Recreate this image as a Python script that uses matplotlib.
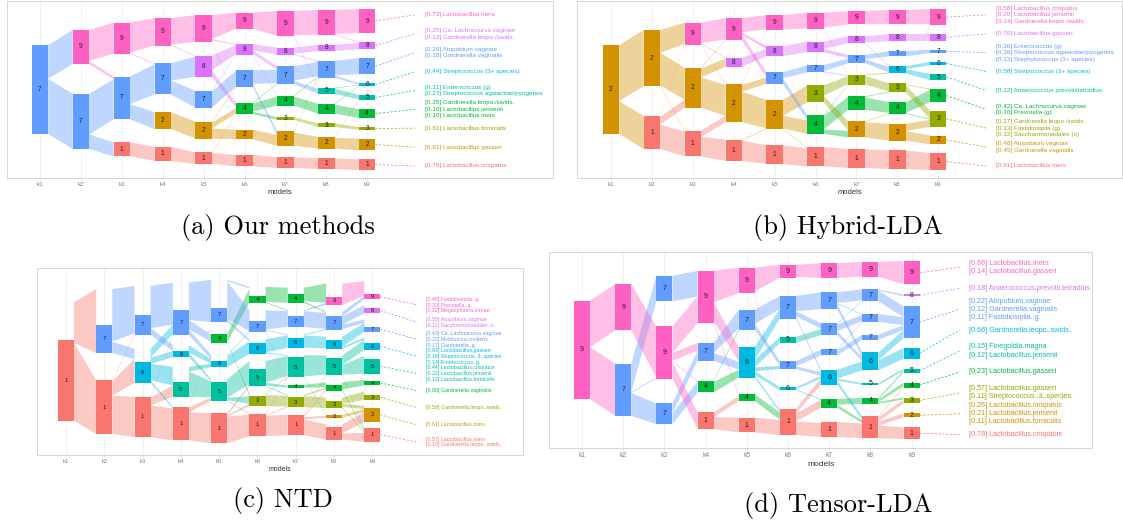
import matplotlib
matplotlib.use('Agg')
import matplotlib.pyplot as plt
from matplotlib.patches import Polygon, Rectangle
import numpy as np

plt.rcParams['font.family'] = ['Liberation Sans', 'DejaVu Sans']

# ggplot hue palette for the 9 topics
hue = {1: '#F8766D', 2: '#D39200', 3: '#93AA00', 4: '#00BA38', 5: '#00C19F',
       6: '#00B9E3', 7: '#619CFF', 8: '#DB72FB', 9: '#FF61C3'}

models = ['k1', 'k2', 'k3', 'k4', 'k5', 'k6', 'k7', 'k8', 'k9']

# ---------------- (a) Our methods ----------------
a_topics = [[7], [9, 7], [9, 7, 1], [9, 7, 2, 1], [9, 8, 7, 2, 1], [9, 8, 7, 4, 2, 1],
            [9, 8, 7, 4, 3, 2, 1], [9, 8, 7, 5, 4, 3, 2, 1], [9, 8, 7, 6, 5, 4, 3, 2, 1]]
a_mass = [[1.00], [0.38, 0.62], [0.35, 0.48, 0.16], [0.31, 0.35, 0.19, 0.16],
          [0.30, 0.24, 0.19, 0.19, 0.13], [0.18, 0.12, 0.19, 0.13, 0.11, 0.13],
          [0.28, 0.08, 0.20, 0.11, 0.03, 0.16, 0.12],
          [0.28, 0.07, 0.19, 0.07, 0.11, 0.04, 0.13, 0.12],
          [0.27, 0.08, 0.18, 0.03, 0.06, 0.10, 0.03, 0.13, 0.12]]
a_flows = [
    [(0, 0, .38), (0, 1, .62)],
    [(0, 0, .34), (0, 1, .03), (1, 1, .45), (1, 2, .16)],
    [(0, 0, .31), (0, 1, .01), (1, 1, .33), (1, 2, .18), (2, 3, .16)],
    [(0, 0, .30), (0, 1, .01), (1, 1, .22), (1, 2, .18), (2, 3, .19), (3, 4, .13)],
    [(0, 0, .17), (0, 1, .01), (0, 3, .01), (1, 1, .11), (1, 3, .05), (2, 1, .01), (2, 2, .18),
     (3, 2, .01), (3, 3, .06), (3, 4, .10), (4, 3, .01), (4, 5, .13)],
    [(0, 0, .18), (1, 1, .07), (1, 2, .04), (1, 3, .01), (2, 2, .16), (2, 5, .04), (3, 2, .01),
     (3, 3, .10), (3, 4, .03), (4, 5, .11), (5, 6, .12)],
    [(0, 0, .27), (0, 3, .01), (1, 1, .07), (1, 2, .01), (2, 2, .17), (2, 3, .04), (3, 2, .01),
     (3, 4, .10), (4, 5, .03), (5, 2, .01), (5, 6, .14), (6, 7, .12)],
    [(0, 0, .27), (0, 1, .01), (1, 1, .07), (2, 2, .18), (2, 3, .03), (3, 3, .01), (3, 4, .06),
     (4, 3, .01), (4, 5, .10), (5, 6, .03), (6, 4, .01), (6, 7, .13), (7, 8, .12)],
]
a_labels = [
    ['[0.73] Lactobacillus iners'],
    ['[0.25] Ca. Lachnocurva vaginae', '[0.12] Gardnerella leopo./swids.'],
    ['[0.26] Atopobium vaginae', '[0.18] Gardnerella vaginalis'],
    ['[0.44] Streptococcus (3+ species)'],
    ['[0.31] Enterococcus (g)', '[0.27] Streptococcus agalactiae/pyogenes'],
    ['[0.25] Gardnerella leopo./swids.', '[0.10] Lactobacillus jensenii', '[0.10] Lactobacillus iners'],
    ['[0.61] Lactobacillus fornicalis'],
    ['[0.61] Lactobacillus gasseri'],
    ['[0.79] Lactobacillus crispatus'],
]

# ---------------- (b) Hybrid-LDA ----------------
b_topics = [[2], [2, 1], [9, 2, 1], [9, 8, 2, 1], [9, 8, 7, 2, 1], [9, 8, 7, 3, 4, 1],
            [9, 8, 7, 3, 4, 2, 1], [9, 8, 7, 6, 3, 4, 2, 1], [9, 8, 7, 6, 5, 4, 3, 2, 1]]
b_mass = [[1.00], [0.63, 0.37], [0.25, 0.45, 0.29], [0.25, 0.10, 0.43, 0.24],
          [0.17, 0.11, 0.13, 0.33, 0.21], [0.18, 0.12, 0.08, 0.19, 0.21, 0.22],
          [0.15, 0.08, 0.09, 0.11, 0.15, 0.18, 0.21],
          [0.16, 0.08, 0.06, 0.08, 0.10, 0.13, 0.19, 0.21],
          [0.18, 0.08, 0.04, 0.04, 0.07, 0.15, 0.18, 0.10, 0.19]]
b_flows = [
    [(0, 0, .63), (0, 1, .37)],
    [(0, 0, .25), (0, 1, .36), (0, 2, .01), (1, 0, .01), (1, 1, .09), (1, 2, .28)],
    [(0, 0, .24), (0, 1, .01), (0, 2, .01), (1, 0, .01), (1, 1, .10), (1, 2, .34), (2, 2, .07),
     (2, 3, .22)],
    [(0, 0, .16), (0, 1, .03), (0, 2, .06), (1, 1, .08), (2, 0, .01), (2, 2, .07), (2, 3, .32),
     (3, 3, .01), (3, 4, .21)],
    [(0, 0, .17), (0, 5, .01), (1, 1, .11), (2, 2, .07), (2, 4, .06), (3, 3, .19), (3, 4, .15),
     (3, 5, .01), (4, 5, .22)],
    [(0, 0, .15), (0, 3, .01), (1, 1, .08), (1, 2, .04), (2, 2, .06), (2, 3, .01), (3, 3, .11),
     (3, 5, .07), (4, 3, .01), (4, 4, .15), (4, 5, .05), (5, 6, .21)],
    [(0, 0, .15), (1, 1, .07), (1, 3, .01), (2, 2, .05), (2, 3, .05), (3, 3, .01), (3, 4, .10),
     (4, 4, .01), (4, 5, .13), (5, 5, .01), (5, 6, .18), (6, 7, .21)],
    [(0, 0, .17), (1, 1, .08), (2, 2, .04), (3, 3, .04), (3, 4, .06), (4, 0, .01), (4, 5, .01),
     (4, 6, .09), (5, 5, .13), (5, 6, .01), (6, 6, .08), (6, 7, .10), (7, 8, .19)],
]
b_labels = [
    ['[0.58] Lactobacillus crispatus', '[0.20] Lactobacillus jensenii', '[0.14] Gardnerella leopo./swids.'],
    ['[0.70] Lactobacillus gasseri'],
    ['[0.36] Enterococcus (g)', '[0.26] Streptococcus agalactiae/pyogenes', '[0.13] Staphylococcus (3+ species)'],
    ['[0.58] Streptococcus (3+ species)'],
    ['[0.12] Anaerococcus prevotii/tetradius'],
    ['[0.42] Ca. Lachnocurva vaginae', '[0.10] Prevotella (g)'],
    ['[0.27] Gardnerella leopo./swids.', '[0.13] Fastidiosipila (g)', '[0.12] Saccharimonadales (o)'],
    ['[0.46] Atopobium vaginae', '[0.45] Gardnerella vaginalis'],
    ['[0.91] Lactobacillus iners'],
]

# ---------------- (c) NTD ----------------
c_topics = [[1], [7, 1], [7, 6, 1], [7, 6, 5, 1], [7, 4, 6, 5, 1], [4, 7, 6, 5, 3, 1],
            [4, 7, 6, 5, 4, 3, 1], [9, 7, 6, 5, 4, 3, 2, 1], [9, 8, 7, 6, 5, 4, 3, 2, 1]]
c_mass = [[0.86], [0.30, 0.57], [0.21, 0.22, 0.43], [0.27, 0.06, 0.16, 0.36],
          [0.15, 0.09, 0.07, 0.20, 0.32], [0.07, 0.12, 0.11, 0.19, 0.11, 0.24],
          [0.09, 0.12, 0.10, 0.22, 0.03, 0.11, 0.22],
          [0.09, 0.15, 0.09, 0.19, 0.06, 0.07, 0.03, 0.13],
          [0.05, 0.06, 0.05, 0.07, 0.16, 0.05, 0.05, 0.15, 0.15]]
# weight carried by the flows through each node (wider than the node mass for NTD)
c_space = [[1.26], [0.68, 0.57], [0.52, 0.36, 0.43], [0.56, 0.13, 0.32, 0.36],
           [0.45, 0.09, 0.13, 0.23, 0.32], [0.17, 0.23, 0.15, 0.27, 0.13, 0.24],
           [0.16, 0.18, 0.14, 0.24, 0.03, 0.13, 0.22],
           [0.23, 0.19, 0.13, 0.21, 0.09, 0.11, 0.03, 0.16],
           [0.19, 0.09, 0.13, 0.13, 0.19, 0.06, 0.09, 0.17, 0.15]]
c_flows = [
    [(0, 0, .43), (0, 1, .83)],
    [(0, 0, .32), (0, 1, .07), (1, 0, .01), (1, 1, .16), (1, 2, .42)],
    [(0, 0, .32), (0, 1, .05), (1, 0, .07), (1, 1, .05), (1, 2, .13), (1, 3, .02), (2, 0, .01),
     (2, 2, .08), (2, 3, .34)],
    [(0, 0, .32), (0, 1, .08), (0, 2, .05), (1, 2, .05), (1, 3, .03), (2, 2, .04), (2, 3, .22),
     (3, 1, .01), (3, 3, .05), (3, 4, .30)],
    [(0, 0, .01), (0, 1, .27), (0, 2, .02), (1, 0, .09), (1, 4, .01), (2, 1, .01), (2, 2, .12),
     (3, 3, .22), (3, 4, .03), (3, 5, .01), (4, 3, .02), (4, 4, .01), (4, 5, .24)],
    [(0, 0, .15), (0, 1, .01), (1, 1, .17), (1, 2, .01), (1, 4, .01), (2, 2, .13), (2, 3, .01),
     (3, 3, .23), (3, 4, .03), (3, 5, .01), (4, 3, .01), (4, 5, .12), (5, 1, .005), (5, 3, .01),
     (5, 5, .01), (5, 6, .22)],
    [(0, 0, .08), (0, 1, .01), (1, 0, .01), (1, 1, .16), (2, 1, .01), (2, 2, .12), (3, 3, .20),
     (3, 6, .01), (4, 4, .03), (5, 4, .01), (5, 5, .10), (6, 2, .005), (6, 3, .01), (6, 4, .01),
     (6, 6, .02), (6, 7, .15)],
    [(0, 0, .18), (1, 0, .04), (1, 1, .07), (1, 2, .04), (1, 8, .005), (2, 2, .10), (2, 3, .02),
     (3, 3, .10), (3, 4, .10), (3, 8, .01), (4, 5, .05), (4, 8, .01), (5, 6, .06), (5, 7, .03),
     (5, 8, .01), (6, 7, .03), (7, 7, .09), (7, 8, .06)],
]
c_labels = [
    ['[0.48] Fastidiosipila..g.', '[0.33] Prevotella..g.', '[0.22] Megasphaera.lornae'],
    ['[0.55] Atopobium.vaginae', '[0.11] Saccharimonadales..o.'],
    ['[0.43] Ca..Lachnocurva.vaginae', '[0.22] Mobiluncus.mulieris', '[0.17] Gardnerella..g.'],
    ['[0.93] Lactobacillus.gasseri', '[0.16] Streptococcus..3..species.', '[0.14] Enterococcus..g.'],
    ['[0.44] Lactobacillus.crispatus', '[0.22] Lactobacillus.jensenii', '[0.12] Lactobacillus.fornicalis'],
    ['[0.80] Gardnerella.vaginalis'],
    ['[0.58] Gardnerella.leopo..swids.'],
    ['[0.61] Lactobacillus.iners'],
    ['[0.57] Lactobacillus.iners', '[0.10] Gardnerella.leopo..swids.'],
]

# ---------------- (d) Tensor-LDA ----------------
d_topics = [[9], [9, 7], [7, 9, 7], [9, 7, 4, 1], [9, 7, 6, 4, 1], [9, 7, 5, 7, 6, 1],
            [9, 7, 7, 7, 6, 4, 1], [9, 7, 7, 7, 6, 5, 4, 1], [9, 8, 7, 6, 5, 4, 3, 2, 1]]
d_mass = [[1.00], [0.47, 0.53], [0.26, 0.53, 0.21], [0.53, 0.18, 0.12, 0.17],
          [0.26, 0.21, 0.31, 0.07, 0.15], [0.13, 0.23, 0.06, 0.08, 0.03, 0.27],
          [0.15, 0.17, 0.12, 0.06, 0.15, 0.09, 0.15],
          [0.15, 0.12, 0.08, 0.05, 0.18, 0.02, 0.06, 0.22],
          [0.24, 0.02, 0.32, 0.11, 0.04, 0.05, 0.06, 0.04, 0.12]]
d_flows = [
    [(0, 0, .47), (0, 1, .53)],
    [(0, 1, .47), (1, 0, .26), (1, 1, .01), (1, 2, .21)],
    [(0, 0, .26), (1, 0, .27), (1, 1, .08), (1, 2, .01), (1, 3, .17), (2, 1, .10), (2, 2, .11)],
    [(0, 0, .26), (0, 2, .15), (0, 3, .02), (1, 1, .10), (1, 2, .08), (2, 1, .01), (2, 2, .08),
     (3, 3, .05), (3, 4, .12)],
    [(0, 0, .13), (0, 5, .01), (1, 1, .13), (1, 3, .05), (1, 5, .01), (2, 1, .10), (2, 2, .06),
     (2, 3, .03), (2, 4, .03), (2, 5, .02), (3, 5, .07), (4, 5, .15)],
    [(0, 0, .15), (0, 6, .01), (1, 1, .15), (1, 2, .05), (1, 4, .02), (2, 2, .06), (3, 3, .06),
     (3, 4, .03), (4, 4, .02), (4, 5, .01), (5, 4, .05), (5, 5, .08), (5, 6, .14)],
    [(0, 0, .15), (1, 1, .11), (1, 2, .01), (1, 4, .05), (2, 1, .01), (2, 2, .07), (2, 4, .04),
     (3, 2, .01), (3, 3, .05), (4, 4, .09), (4, 5, .02), (4, 7, .04), (5, 6, .06), (5, 7, .03),
     (6, 7, .15)],
    [(0, 0, .15), (1, 1, .01), (1, 2, .11), (2, 2, .08), (3, 2, .05), (4, 2, .08), (4, 3, .10),
     (5, 4, .02), (6, 4, .02), (6, 5, .03), (6, 6, .02), (7, 5, .01), (7, 6, .04), (7, 7, .04),
     (7, 8, .12)],
]
d_labels = [
    ['[0.66] Lactobacillus.iners', '[0.14] Lactobacillus.gasseri'],
    ['[0.18] Anaerococcus.prevotii.tetradius'],
    ['[0.22] Atopobium.vaginae', '[0.12] Gardnerella.vaginalis', '[0.11] Fastidiosipila..g.'],
    ['[0.66] Gardnerella.leopo..swids.'],
    ['[0.15] Finegoldia.magna', '[0.12] Lactobacillus.jensenii'],
    ['[0.23] Lactobacillus.gasseri'],
    ['[0.57] Lactobacillus.gasseri', '[0.11] Streptococcus..3..species.'],
    ['[0.26] Lactobacillus.crispatus', '[0.21] Lactobacillus.jensenii', '[0.11] Lactobacillus.fornicalis'],
    ['[0.78] Lactobacillus.crispatus'],
]

# vertical extent of each column (nodes + gaps)
col_span = [1.0, 1.337, 1.506, 1.607, 1.674, 1.73, 1.764, 1.79, 1.81]
c_col_span = [1.26, 1.54, 1.61, 1.68, 1.74, 1.59, 1.57, 1.66, 1.71]


def draw_alignment(ax, topics, mass, flows, labels, space=None, spans=col_span,
                   xlim=(0.2, 13.5), hw=0.2, lab_range=(-0.84, 0.86), line_h=0.074,
                   fs=4.55, fs_node=4.8, fs_tick=4.5, fs_axis=5.5):
    if space is None:
        space = mass
    # node layout: spaces stacked with even gaps, column centred on 0
    pos = []
    for k in range(len(topics)):
        sp = space[k]
        tot = sum(sp)
        span = max(spans[k], tot)
        gap = (span - tot) / (len(sp) - 1) if len(sp) > 1 else 0
        y = -span / 2
        col = []
        for s, m in zip(sp, mass[k]):
            col.append((y, y + s, y + s - m, y + s))
            y += s + gap
        pos.append(col)

    # flows between consecutive models
    for k, fl in enumerate(flows):
        out_tot = {}
        in_tot = {}
        for i, j, w in fl:
            out_tot[i] = out_tot.get(i, 0) + w
            in_tot[j] = in_tot.get(j, 0) + w
        s_start = {}
        t_start = {}
        s_pos = {}
        for i, j, w in sorted(fl, key=lambda f: (f[0], f[1])):
            y0 = s_start.get(i, pos[k][i][0])
            h = w / out_tot[i] * (pos[k][i][1] - pos[k][i][0])
            s_pos[(i, j)] = (y0, y0 + h)
            s_start[i] = y0 + h
        for i, j, w in sorted(fl, key=lambda f: (f[1], f[0])):
            y0 = t_start.get(j, pos[k + 1][j][0])
            h = w / in_tot[j] * (pos[k + 1][j][1] - pos[k + 1][j][0])
            t_start[j] = y0 + h
            a0, a1 = s_pos[(i, j)]
            x0 = k + 1 + hw
            x1 = k + 2 - hw
            ax.add_patch(Polygon([(x0, a0), (x1, y0), (x1, y0 + h), (x0, a1)], closed=True,
                                 facecolor=hue[topics[k][i]], alpha=0.4, lw=0, zorder=2))

    # nodes
    for k, col in enumerate(pos):
        for t, (s0, s1, r0, r1) in zip(topics[k], col):
            ax.add_patch(Rectangle((k + 1 - hw, r0), 2 * hw, r1 - r0, facecolor=hue[t],
                                   lw=0, zorder=3))
            ax.text(k + 1, (r0 + r1) / 2, str(t), ha='center', va='center', fontsize=fs_node,
                    color='#222222', zorder=4)

    # labels of the last model
    centers = np.linspace(lab_range[0], lab_range[1], len(labels))
    for g, (lines, c) in enumerate(zip(labels, centers)):
        colr = hue[topics[-1][g]]
        r0, r1 = pos[-1][g][2], pos[-1][g][3]
        ax.plot([9 + hw, 10.17], [(r0 + r1) / 2, c], ls=(0, (3, 2.5)), lw=0.5, color=colr,
                zorder=2)
        n = len(lines)
        for li, txt in enumerate(lines):
            ax.text(10.4, c + (li - (n - 1) / 2) * line_h, txt, color=colr, fontsize=fs,
                    ha='left', va='center', zorder=4)

    ax.set_xlim(*xlim)
    ax.set_ylim(0.995, -0.995)
    ax.set_xticks(range(1, 10))
    ax.set_xticklabels(models)
    ax.set_yticks([])
    ax.grid(axis='x', color='#EBEBEB', lw=0.5)
    ax.set_axisbelow(True)
    for s in ax.spines.values():
        s.set_color('#D6D6D6')
        s.set_linewidth(0.7)
    ax.tick_params(axis='x', length=1.5, width=0.4, color='#CCCCCC', labelsize=fs_tick,
                   labelcolor='#808080', pad=1.5)
    ax.set_xlabel('models', fontsize=fs_axis, color='#333333', labelpad=1)


fig = plt.figure(figsize=(11.23, 5.25), dpi=100)

ax_a = fig.add_axes([0.0062, 0.661, 0.4862, 0.337])
draw_alignment(ax_a, a_topics, a_mass, a_flows, a_labels, xlim=(0.193, 13.54))

ax_b = fig.add_axes([0.5138, 0.661, 0.4853, 0.337])
draw_alignment(ax_b, b_topics, b_mass, b_flows, b_labels, xlim=(0.169, 13.49))

ax_c = fig.add_axes([0.0329, 0.1333, 0.4328, 0.3562])
draw_alignment(ax_c, c_topics, c_mass, c_flows, c_labels, space=c_space, spans=c_col_span,
               xlim=(0.243, 12.93), hw=0.21, lab_range=(-0.60, 0.856), line_h=0.061,
               fs=3.8, fs_node=4.3, fs_tick=4.2, fs_axis=5.0)

ax_d = fig.add_axes([0.4889, 0.1467, 0.4835, 0.3733])
draw_alignment(ax_d, d_topics, d_mass, d_flows, d_labels, xlim=(0.2, 13.38), hw=0.195,
               line_h=0.082, fs=5.2, fs_node=5.0, fs_tick=4.8, fs_axis=6.0)

cap = dict(family='cmr10', fontsize=19, ha='center', va='center')
fig.text(0.2475, 0.566, '(a) Our methods', **cap)
fig.text(0.755, 0.566, '(b) Hybrid-LDA', **cap)
fig.text(0.252, 0.046, '(c) NTD', **cap)
fig.text(0.746, 0.038, '(d) Tensor-LDA', **cap)

fig.savefig('out.png', dpi=100, facecolor='white')
